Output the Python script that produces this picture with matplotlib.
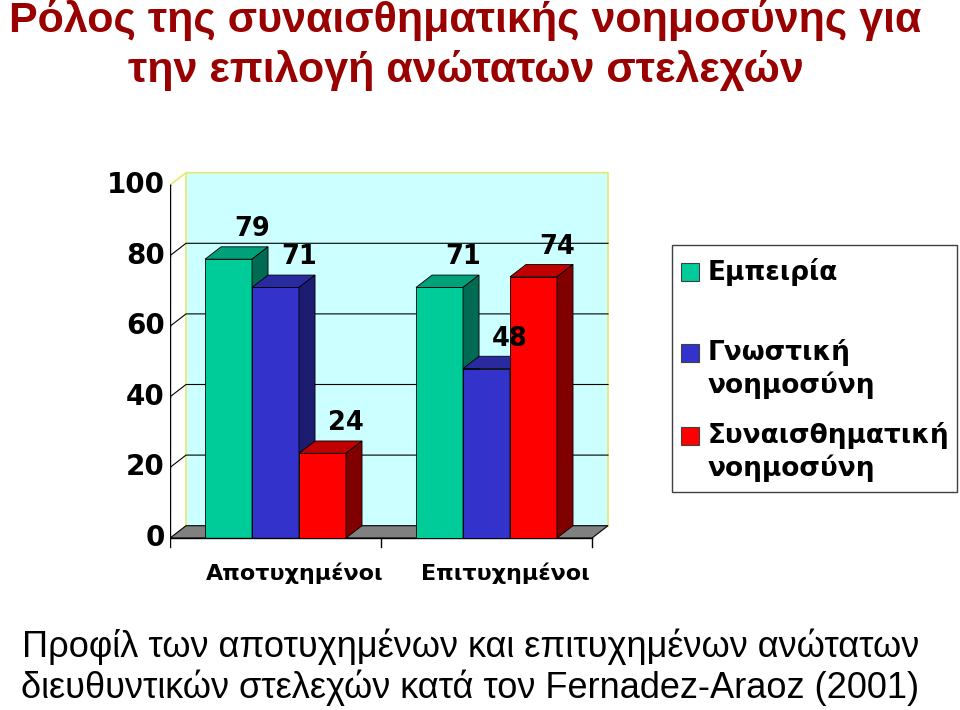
import numpy as np
import matplotlib.pyplot as plt
from matplotlib.patches import Polygon, Rectangle

categories = ['Αποτυχημένοι', 'Επιτυχημένοι']
series = ['Εμπειρία', 'Γνωστική\nνοημοσύνη', 'Συναισθηματική\nνοημοσύνη']
values = [[79, 71],   # Εμπειρία
          [71, 48],   # Γνωστική νοημοσύνη
          [24, 74]]   # Συναισθηματική νοημοσύνη
yticks = [0, 20, 40, 60, 80, 100]

front = ['#00CC99', '#3333CC', '#FF0000']
top = ['#00A07A', '#2A2AA0', '#C00000']
side = ['#006B52', '#1C1C70', '#800000']

title_lines = ['Ρόλος της συναισθηματικής νοημοσύνης για', 'την επιλογή ανώτατων στελεχών']
caption_lines = ['Προφίλ των αποτυχημένων και επιτυχημένων ανώτατων',
                 'διευθυντικών στελεχών κατά τον Fernadez-Araoz (2001)']

fig = plt.figure(figsize=(9.6, 7.1), dpi=100)
# x: 211 px per category, y: 3.53 px per unit
ax = fig.add_axes([170 / 960, (710 - 555.7) / 710, 2.3 * 211 / 960, 110 * 3.53 / 710])
ax.set_xlim(0, 2.3)
ax.set_ylim(-5, 105)
ax.axis('off')

dx, dy = 0.076, 3.5     # depth offset (data units)
w = 0.2227              # bar width
ncat = len(categories)

# back wall
ax.add_patch(Rectangle((dx, dy), ncat, 100, facecolor='#CCFFFF', edgecolor='none', zorder=0))
ax.plot([0, dx, dx + ncat, dx + ncat], [100, 100 + dy, 100 + dy, dy], color='#E8E870', lw=1.2, zorder=1)
ax.plot([dx, dx], [dy, 100 + dy], color='#E8E870', lw=1.2, zorder=1)
# floor
ax.add_patch(Polygon([(0, 0), (ncat, 0), (ncat + dx, dy), (dx, dy)], closed=True,
                     facecolor='#808080', edgecolor='black', lw=0.8, zorder=1))
# gridlines
for t in yticks[1:-1]:
    ax.plot([0, dx, dx + ncat], [t, t + dy, t + dy], color='black', lw=0.8, zorder=1)

# axes lines and ticks
ax.plot([0, 0], [0, 100], color='black', lw=1, zorder=5)
ax.plot([0, ncat], [0, 0], color='black', lw=1, zorder=5)
for t in yticks:
    ax.plot([-0.035, 0], [t, t], color='black', lw=1, zorder=5)
    ax.text(-0.025, t, str(t), ha='right', va='center', fontsize=20,
            fontweight='bold', family='DejaVu Sans')
for i in range(ncat + 1):
    ax.plot([i, i], [0, -2.4], color='black', lw=1, zorder=5)

# 3D-looking bars
z = 3
for c in range(ncat):
    start = c + 0.5 - 1.5 * w
    for s in range(len(series)):
        v = values[s][c]
        x0 = start + s * w
        ax.bar(x0, v, width=w, align='edge', color=front[s], edgecolor='black', lw=0.6, zorder=z)
        ax.add_patch(Polygon([(x0, v), (x0 + w, v), (x0 + w + dx, v + dy), (x0 + dx, v + dy)],
                             closed=True, facecolor=top[s], edgecolor='black', lw=0.6, zorder=z))
        ax.add_patch(Polygon([(x0 + w, 0), (x0 + w + dx, dy), (x0 + w + dx, v + dy), (x0 + w, v)],
                             closed=True, facecolor=side[s], edgecolor='black', lw=0.6, zorder=z))
        ax.text(x0 + w / 2 + 0.11, v + 8.5, str(v), ha='center', va='center', fontsize=18.5,
                fontweight='bold', family='DejaVu Sans', zorder=10)
        z += 1
    ax.text(c + 0.59, -10, categories[c], ha='center', va='center', fontsize=16,
            fontweight='bold', family='DejaVu Sans')

# legend
fig.patches.append(Rectangle((672 / 960, 1 - 492 / 710), 285 / 960, 247 / 710,
                             transform=fig.transFigure, facecolor='white', edgecolor='#404040', lw=1))
leg_y = [272, 353, 436]
for s in range(len(series)):
    fig.patches.append(Rectangle((681 / 960, 1 - (leg_y[s] + 9) / 710), 18 / 960, 18 / 710,
                                 transform=fig.transFigure, facecolor=front[s], edgecolor='#404040', lw=0.8))
    fig.text(708 / 960, 1 - (leg_y[s] - 14) / 710, series[s], ha='left', va='top', fontsize=19,
             fontweight='bold', family='DejaVu Sans', linespacing=1.25)

# title and caption, one text per line
title_base = [32, 82]
for line, yb in zip(title_lines, title_base):
    fig.text(0.485, 1 - yb / 710, line, ha='center', va='baseline', fontsize=31, fontweight='bold',
             color='#990000', family=['Liberation Sans Narrow', 'Liberation Sans'])
caption_base = [657, 698]
for line, yb in zip(caption_lines, caption_base):
    fig.text(0.49, 1 - yb / 710, line, ha='center', va='baseline', fontsize=26,
             family=['Liberation Sans Narrow', 'Liberation Sans'])

fig.savefig('out.png', dpi=100)
